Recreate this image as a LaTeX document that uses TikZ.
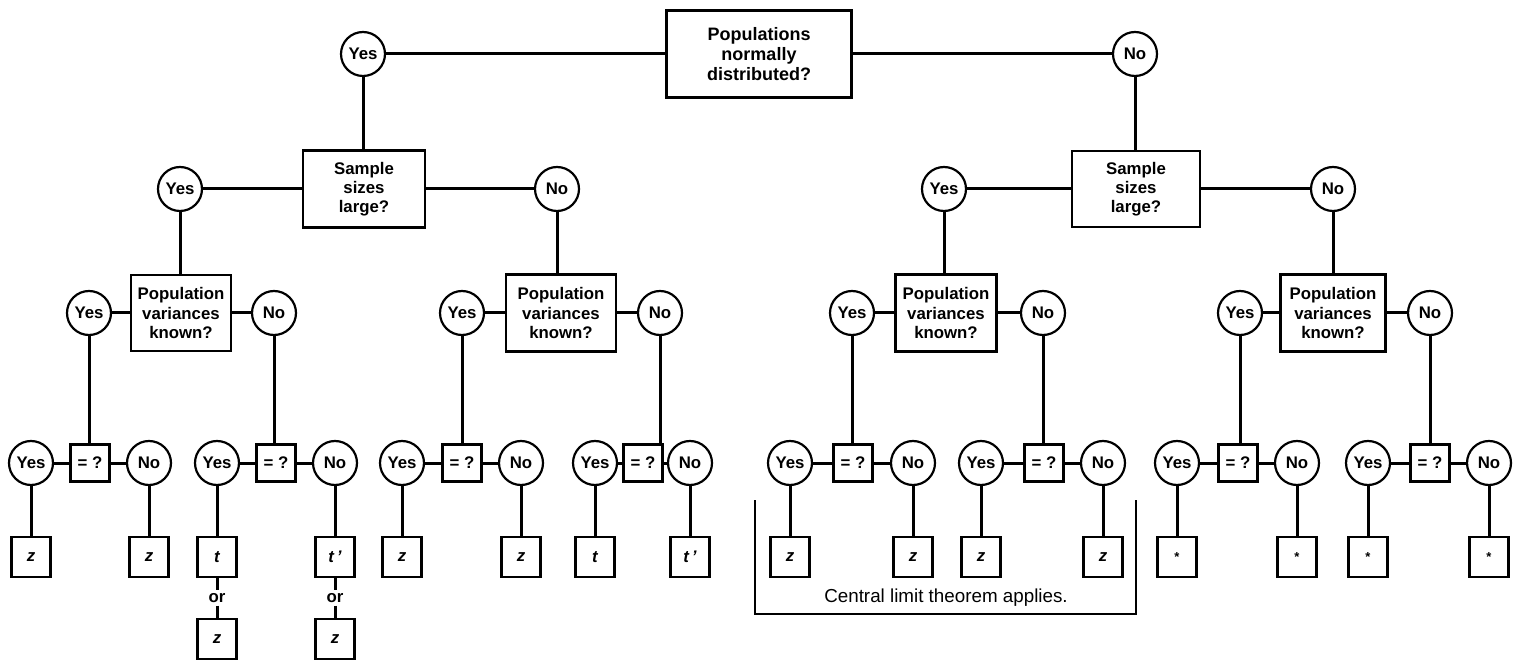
\documentclass[tikz,border=0pt]{standalone}
\usepackage{fontspec}
\setmainfont{Liberation Sans}
\begin{document}
\begin{tikzpicture}[x=0.5pt,y=-0.5pt,
  every node/.style={inner sep=0pt, outer sep=0pt, align=center,
    font=\bfseries\fontsize{8.4}{9.6}\selectfont},
  ans/.style={draw, circle, line width=1.1pt, minimum size=22pt},
  qbox/.style={draw, rectangle, line width=1.1pt},
  eqbox/.style={draw, rectangle, line width=1.1pt, minimum width=19.5pt, minimum height=18.5pt},
  leaf/.style={draw, rectangle, line width=1.1pt, minimum width=19.5pt, minimum height=20pt,
    font=\bfseries\itshape\fontsize{8.4}{9.6}\selectfont},
  conn/.style={line width=1.5pt},
  bracket/.style={line width=1.2pt}]
\useasboundingbox (0,0) rectangle (1520,662);

% root question
\node[qbox, minimum width=92.5pt, minimum height=43.5pt,
  font=\bfseries\fontsize{9}{10}\selectfont] (T) at (759,54)
  {Populations\\normally\\distributed?};
\node[ans] (Y0) at (363,54) {Yes};
\node[ans] (N0) at (1135,54) {No};
\draw[conn] (Y0) -- (T);
\draw[conn] (T) -- (N0);

% sample sizes
\node[qbox, minimum width=61pt, minimum height=38.5pt] (S1) at (364,189) {Sample\\sizes\\large?};
\node[qbox, minimum width=64pt, minimum height=38pt] (S2) at (1136,189) {Sample\\sizes\\large?};
\draw[conn] (Y0.south) -- (Y0.south |- S1.north);
\draw[conn] (N0.south) -- (N0.south |- S2.north);
\node[ans] (Y1) at (180,189) {Yes};
\node[ans] (N1) at (557,189) {No};
\node[ans] (Y2) at (944,189) {Yes};
\node[ans] (N2) at (1333,189) {No};
\draw[conn] (Y1) -- (S1);
\draw[conn] (S1) -- (N1);
\draw[conn] (Y2) -- (S2);
\draw[conn] (S2) -- (N2);

% population variances
\node[qbox, minimum width=50pt, minimum height=38pt] (P1) at (181,313) {Population\\variances\\known?};
\node[qbox, minimum width=55pt, minimum height=38.5pt] (P2) at (561,313) {Population\\variances\\known?};
\node[qbox, minimum width=50.5pt, minimum height=38.5pt] (P3) at (946,313) {Population\\variances\\known?};
\node[qbox, minimum width=52.5pt, minimum height=38.5pt] (P4) at (1333,313) {Population\\variances\\known?};
\draw[conn] (Y1.south) -- (Y1.south |- P1.north);
\draw[conn] (N1.south) -- (N1.south |- P2.north);
\draw[conn] (Y2.south) -- (Y2.south |- P3.north);
\draw[conn] (N2.south) -- (N2.south |- P4.north);

\foreach \p/\yx/\nx in {1/89/274, 2/462/660, 3/852/1043, 4/1240/1430}{
  \node[ans] (VY\p) at (\yx,313) {Yes};
  \node[ans] (VN\p) at (\nx,313) {No};
  \draw[conn] (VY\p) -- (P\p);
  \draw[conn] (P\p) -- (VN\p);
}

% equality of variances
\foreach \g/\yx/\ex/\nx in {1/31/90/149, 2/217/276/335, 3/402/462/521, 4/595/643/690,
    5/790/853/913, 6/981/1044/1103, 7/1177/1238/1297, 8/1368/1430/1489}{
  \node[ans] (GY\g) at (\yx,463) {Yes};
  \node[eqbox] (E\g) at (\ex,463) {= ?};
  \node[ans] (GN\g) at (\nx,463) {No};
  \draw[conn] (GY\g) -- (E\g);
  \draw[conn] (E\g) -- (GN\g);
}
\draw[conn] (VY1.south) -- (VY1.south |- E1.north);
\draw[conn] (VN1.south) -- (VN1.south |- E2.north);
\draw[conn] (VY2.south) -- (VY2.south |- E3.north);
\draw[conn] (VN2.south) -- (VN2.south |- E4.north);
\draw[conn] (VY3.south) -- (VY3.south |- E5.north);
\draw[conn] (VN3.south) -- (VN3.south |- E6.north);
\draw[conn] (VY4.south) -- (VY4.south |- E7.north);
\draw[conn] (VN4.south) -- (VN4.south |- E8.north);

% test statistics
\coordinate (leafrow) at (0,557);
\coordinate (orrow) at (0,598);
\coordinate (altrow) at (0,639);
\newcommand{\starmark}{{\upshape\fontsize{6.5}{7}\selectfont\raisebox{-0.55ex}{*}}}
\foreach \g/\a/\b in {1/z/z, 2/t/t\,', 3/z/z, 4/t/t\,', 5/z/z, 6/z/z, 7/\starmark/\starmark, 8/\starmark/\starmark}{
  \node[leaf] (LY\g) at (GY\g |- leafrow) {\a};
  \node[leaf] (LN\g) at (GN\g |- leafrow) {\b};
  \draw[conn] (GY\g) -- (LY\g);
  \draw[conn] (GN\g) -- (LN\g);
}

% alternatives for unknown variances with large samples
\node[inner sep=1.5pt] (orY) at (GY2 |- orrow) {or};
\node[inner sep=1.5pt] (orN) at (GN2 |- orrow) {or};
\node[leaf] (AY) at (GY2 |- altrow) {z};
\node[leaf] (AN) at (GN2 |- altrow) {z};
\draw[conn] (LY2) -- (orY);
\draw[conn] (orY) -- (AY);
\draw[conn] (LN2) -- (orN);
\draw[conn] (orN) -- (AN);

% central limit theorem bracket
\coordinate (b1) at (755,500);
\coordinate (b2) at (755,614);
\coordinate (b3) at (1136,614);
\coordinate (b4) at (1136,500);
\draw[bracket] (b1) -- (b2) -- (b3) -- (b4);
\node[font=\fontsize{9.4}{11}\selectfont] (clt) at (946,598) {Central limit theorem applies.};
\end{tikzpicture}
\end{document}
